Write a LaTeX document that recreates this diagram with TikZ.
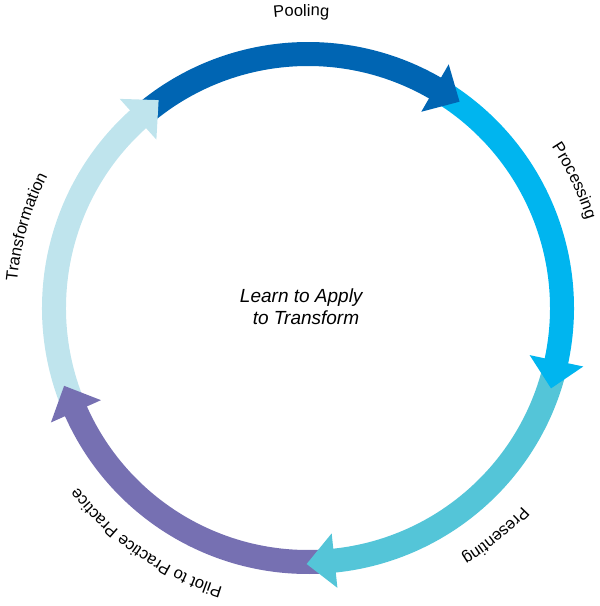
\documentclass[tikz,border=0pt]{standalone}
\usepackage{fontspec}
\setmainfont{Liberation Sans}
\usepackage{tikz}
\usetikzlibrary{decorations, decorations.text, calc, positioning}
\definecolor{poolblue}{RGB}{0,101,179}
\definecolor{procblue}{RGB}{0,181,239}
\definecolor{presteal}{RGB}{84,197,216}
\definecolor{pilotpurple}{RGB}{118,112,178}
\definecolor{transblue}{RGB}{191,228,237}
\newcommand{\cyclefont}{\fontsize{16.5}{20}\selectfont}

\begin{document}
\begin{tikzpicture}[line join=bevel,
    cyclelabel/.style={decorate, decoration={text along path, text align=center,
        text={|\cyclefont|#1}}}]
  \useasboundingbox (-308pt,-298pt) rectangle (292pt,308pt);
  % the five thick arcs
  \foreach \b/\p/\col in {60/132/poolblue, -12/60/procblue, -84/-12/presteal,
      -156/-84/pilotpurple, -228/-156/transblue}
    \fill[\col] (\p-1:266pt) arc[start angle=\p-1, end angle=\b-1, radius=266pt]
      -- (\b-1:242pt) arc[start angle=\b-1, end angle=\p-1, radius=242pt] -- cycle;
  % heads sit over the start of the next arc
  \foreach \b/\col in {60/poolblue, -12/procblue, -84/presteal, -156/pilotpurple,
      -228/transblue}
    \fill[\col] (\b:226.6pt) -- (\b:281.4pt) -- (\b-6.3:256pt) -- cycle;
  % labels round the outside
  \foreach \c/\txt in {91.3/Pooling, 25.5/Processing, -50.5/Presenting,
      235.5/Pilot to Practice Practice, 164/Transformation}
    \path[cyclelabel/.expanded={\txt}] (\c+30:292pt)
      arc[start angle=\c+30, end angle=\c-30, radius=292pt];
  \node[font=\fontsize{19}{22}\selectfont\itshape, align=center, inner sep=0pt]
    (centre) at (-2pt,1pt) {Learn to Apply\hspace*{0.5em}\\to Transform};
\end{tikzpicture}
\end{document}
